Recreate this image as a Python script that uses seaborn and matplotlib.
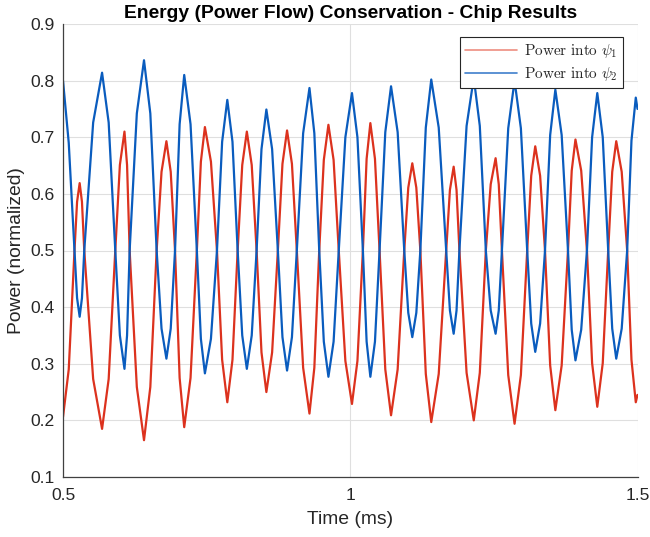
import numpy as np
import pandas as pd
import matplotlib
matplotlib.use("Agg")
import matplotlib.pyplot as plt
from matplotlib.lines import Line2D
import seaborn as sns

# ---- values (extremes, shoulders, crossings) ----
time_ms = [0.500, 0.510, 0.520, 0.5245, 0.529, 0.533, 0.537, 0.5525, 0.568, 0.5795,
           0.591, 0.599, 0.607, 0.6115, 0.616, 0.6285, 0.641, 0.652, 0.663, 0.6715,
           0.680, 0.6875, 0.695, 0.703, 0.711, 0.722, 0.733, 0.740, 0.747, 0.7575,
           0.768, 0.777, 0.786, 0.795, 0.804, 0.812, 0.820, 0.8285, 0.837, 0.8455,
           0.854, 0.864, 0.874, 0.882, 0.890, 0.8985, 0.907, 0.918, 0.929, 0.9375,
           0.946, 0.954, 0.962, 0.971, 0.980, 0.9915, 1.003, 1.0125, 1.022, 1.0285,
           1.035, 1.043, 1.051, 1.061, 1.071, 1.0825, 1.094, 1.101, 1.108, 1.115,
           1.122, 1.1315, 1.141, 1.154, 1.167, 1.1735, 1.180, 1.185, 1.190, 1.2025,
           1.215, 1.2255, 1.236, 1.2445, 1.253, 1.2585, 1.264, 1.275, 1.286, 1.297,
           1.308, 1.315, 1.322, 1.3305, 1.339, 1.348, 1.357, 1.368, 1.379, 1.3855,
           1.392, 1.402, 1.412, 1.421, 1.430, 1.4395, 1.449, 1.456, 1.463, 1.4725,
           1.482, 1.4895, 1.497, 1.500]
power_psi2 = [0.800, 0.690, 0.50, 0.416, 0.383, 0.416, 0.50, 0.726, 0.814, 0.726,
              0.50, 0.350, 0.291, 0.350, 0.50, 0.742, 0.836, 0.742, 0.50, 0.362,
              0.309, 0.362, 0.50, 0.723, 0.810, 0.723, 0.50, 0.344, 0.283, 0.344,
              0.50, 0.692, 0.766, 0.692, 0.50, 0.350, 0.291, 0.350, 0.50, 0.679,
              0.749, 0.679, 0.50, 0.347, 0.288, 0.347, 0.50, 0.707, 0.787, 0.707,
              0.50, 0.339, 0.277, 0.339, 0.50, 0.700, 0.778, 0.700, 0.50, 0.339,
              0.277, 0.339, 0.50, 0.709, 0.790, 0.709, 0.50, 0.390, 0.347, 0.390,
              0.50, 0.717, 0.802, 0.717, 0.50, 0.394, 0.353, 0.394, 0.50, 0.720,
              0.805, 0.720, 0.50, 0.394, 0.353, 0.394, 0.50, 0.716, 0.800, 0.716,
              0.50, 0.371, 0.321, 0.371, 0.50, 0.704, 0.784, 0.704, 0.50, 0.360,
              0.306, 0.360, 0.50, 0.700, 0.778, 0.700, 0.50, 0.362, 0.309, 0.362,
              0.50, 0.694, 0.770, 0.750]
power_psi1 = [0.206, 0.290, 0.50, 0.586, 0.619, 0.586, 0.50, 0.273, 0.185, 0.273,
              0.50, 0.651, 0.710, 0.651, 0.50, 0.259, 0.165, 0.259, 0.50, 0.639,
              0.693, 0.639, 0.50, 0.275, 0.188, 0.275, 0.50, 0.657, 0.718, 0.657,
              0.50, 0.307, 0.232, 0.307, 0.50, 0.651, 0.710, 0.651, 0.50, 0.320,
              0.250, 0.320, 0.50, 0.653, 0.712, 0.653, 0.50, 0.293, 0.212, 0.293,
              0.50, 0.660, 0.722, 0.660, 0.50, 0.305, 0.229, 0.305, 0.50, 0.662,
              0.725, 0.662, 0.50, 0.290, 0.209, 0.290, 0.50, 0.611, 0.654, 0.611,
              0.50, 0.282, 0.197, 0.282, 0.50, 0.607, 0.648, 0.607, 0.50, 0.284,
              0.200, 0.284, 0.50, 0.617, 0.663, 0.617, 0.50, 0.280, 0.194, 0.280,
              0.50, 0.632, 0.684, 0.632, 0.50, 0.297, 0.218, 0.297, 0.50, 0.641,
              0.696, 0.641, 0.50, 0.301, 0.224, 0.301, 0.50, 0.639, 0.693, 0.639,
              0.50, 0.307, 0.232, 0.245]

series_names = ["psi1", "psi2"]
legend_labels = [r"$\mathrm{Power\ into\ }\psi_1$", r"$\mathrm{Power\ into\ }\psi_2$"]
x_ticks = [0.5, 1.0, 1.5]
x_tick_labels = ["0.5", "1", "1.5"]
y_ticks = [0.1, 0.2, 0.3, 0.4, 0.5, 0.6, 0.7, 0.8, 0.9]

red = "#DC321E"
blue = "#0A5CBE"

df = pd.concat([
    pd.DataFrame({"time": time_ms, "power": power_psi1, "series": "psi1"}),
    pd.DataFrame({"time": time_ms, "power": power_psi2, "series": "psi2"}),
], ignore_index=True)

sns.set_style("white")
plt.rcParams["font.family"] = ["Liberation Sans", "DejaVu Sans"]
plt.rcParams["mathtext.fontset"] = "cm"

fig = plt.figure(figsize=(6.5, 5.37), dpi=100)
ax = fig.add_axes([63 / 650, 1 - 477 / 537, 574.5 / 650, 453 / 537])

sns.lineplot(data=df, x="time", y="power", hue="series",
             palette={"psi1": red, "psi2": blue}, hue_order=series_names,
             estimator=None, linewidth=1.6, legend=False, ax=ax)

ax.set_xlim(0.5, 1.5)
ax.set_ylim(0.1, 0.9)
ax.set_xticks(x_ticks)
ax.set_xticklabels(x_tick_labels)
ax.set_yticks(y_ticks)
ax.set_yticklabels([f"{v:.1f}" for v in y_ticks])

ax.grid(True, color="#dfdfdf", linewidth=0.8)
ax.set_axisbelow(True)
for s in ["top", "right"]:
    ax.spines[s].set_visible(False)
for s in ["left", "bottom"]:
    ax.spines[s].set_color("#404040")
    ax.spines[s].set_linewidth(0.9)
ax.tick_params(direction="in", length=4, width=0.8, colors="#262626",
               labelsize=12.6)
ax.tick_params(axis="x", pad=8)
ax.tick_params(axis="y", pad=6)

ax.set_xlabel("Time (ms)", fontsize=13.9, color="#262626", labelpad=6)
ax.set_ylabel("Power (normalized)", fontsize=13.9, color="#262626", labelpad=4)
ax.set_title("Energy (Power Flow) Conservation - Chip Results",
             fontsize=13.9, fontweight="bold", color="black", pad=4)

handles = [Line2D([], [], color="#EE8E80", lw=1.2),
           Line2D([], [], color="#3F7FCC", lw=1.2)]
leg = ax.legend(handles, legend_labels, loc="upper right",
                bbox_to_anchor=(0.975, 0.971), borderaxespad=0,
                fontsize=11, handlelength=3.4, handletextpad=0.45,
                labelspacing=0.3, borderpad=0.35, fancybox=False,
                framealpha=1, edgecolor="#262626")
leg.get_frame().set_linewidth(0.8)

fig.savefig("out.png", dpi=100)
